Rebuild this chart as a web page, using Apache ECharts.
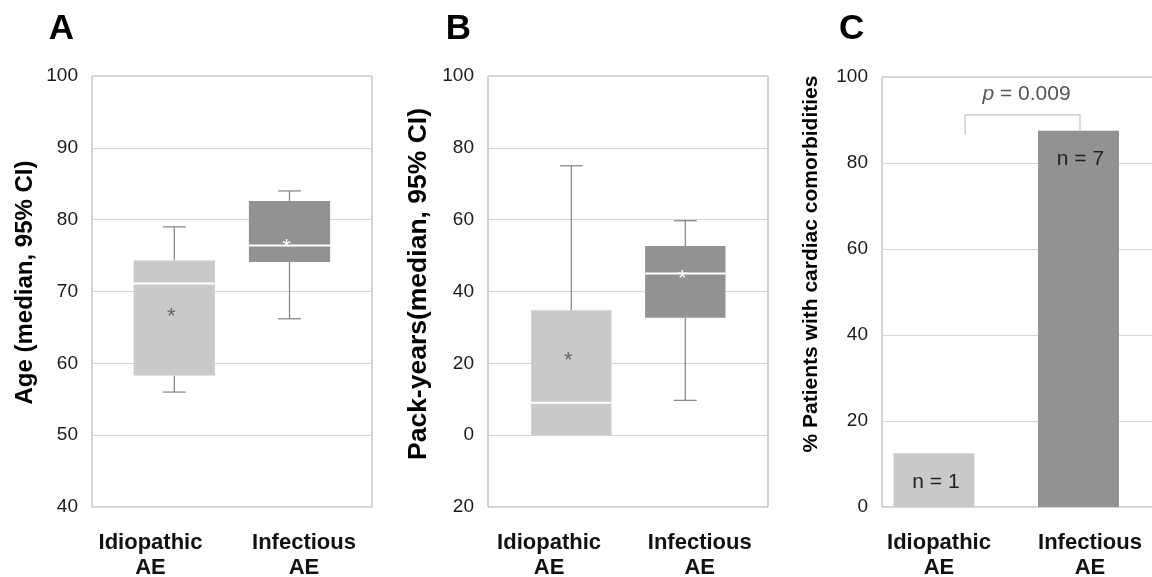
<!DOCTYPE html>
<html>
<head>
<meta charset="utf-8">
<title>Idiopathic vs infectious AE</title>
<script src="https://cdn.jsdelivr.net/npm/echarts@6/dist/echarts.min.js"></script>
<style>
  html, body { margin: 0; padding: 0; background: #fff; }
  #chart { width: 1152px; height: 577px; }
</style>
</head>
<body>
<div id="chart"></div>
<script>
const FONT = '"Liberation Sans", Arial, Helvetica, sans-serif';

const groups = ['Idiopathic\nAE', 'Infectious\nAE'];

// A - age
const ageMin = [56, 66.2];
const ageQ1 = [58.3, 74.1];
const ageMedian = [71.1, 76.4];
const ageQ3 = [74.3, 82.6];
const ageMax = [79, 84];
const ageMean = [67.1, 76.7];
const ageTicks = ['40', '50', '60', '70', '80', '90', '100'];

// B - pack-years
const packMin = [0, 9.7];
const packQ1 = [0, 32.7];
const packMedian = [9, 45];
const packQ3 = [34.8, 52.7];
const packMax = [75, 59.7];
const packMean = [22, 45];
const packTicks = ['20', '0', '20', '40', '60', '80', '100'];

// C - cardiac comorbidities
const cardiacPct = [12.5, 87.5];
const cardiacN = ['n = 1', 'n = 7'];
const pctTicks = ['0', '20', '40', '60', '80', '100'];
const bracketTop = 91.2;
const bracketFeet = [86.7, 87.4];
const pLabel = 'p';
const pText = ' = 0.009';

const boxColors = ['#c9c9c9', '#929292'];
const starColors = ['#666666', '#ffffff'];

function boxRows(mins, q1s, meds, q3s, maxs, means) {
  return groups.map((g, i) => [i, mins[i], q1s[i], meds[i], q3s[i], maxs[i], means[i]]);
}

function renderBox(params, api) {
  const cat = api.value(0);
  const vMin = api.value(1), q1 = api.value(2), med = api.value(3);
  const q3 = api.value(4), vMax = api.value(5), mean = api.value(6);
  const band = api.size([1, 0])[0];
  const cx = api.coord([cat, med])[0];
  const y = (v) => api.coord([cat, v])[1];
  const boxW = band * 0.705;
  const capW = band * 0.2;
  const stroke = { stroke: '#808080', lineWidth: 1.2 };
  const kids = [];
  // whiskers
  kids.push({ type: 'line', shape: { x1: cx, y1: y(vMax), x2: cx, y2: y(q3) }, style: stroke });
  kids.push({ type: 'line', shape: { x1: cx - capW / 2, y1: y(vMax), x2: cx + capW / 2, y2: y(vMax) }, style: stroke });
  if (vMin < q1) {
    kids.push({ type: 'line', shape: { x1: cx, y1: y(q1), x2: cx, y2: y(vMin) }, style: stroke });
    kids.push({ type: 'line', shape: { x1: cx - capW / 2, y1: y(vMin), x2: cx + capW / 2, y2: y(vMin) }, style: stroke });
  }
  // box
  kids.push({
    type: 'rect',
    shape: { x: cx - boxW / 2, y: y(q3), width: boxW, height: y(q1) - y(q3) },
    style: { fill: boxColors[params.dataIndex] }
  });
  // median
  kids.push({
    type: 'line',
    shape: { x1: cx - boxW / 2, y1: y(med), x2: cx + boxW / 2, y2: y(med) },
    style: { stroke: '#ffffff', lineWidth: 2 }
  });
  // mean marker
  kids.push({
    type: 'text',
    x: cx - 3,
    y: y(mean) + 5,
    style: {
      text: '*', fill: starColors[params.dataIndex], fontSize: 22, fontFamily: FONT,
      align: 'center', verticalAlign: 'middle'
    }
  });
  return { type: 'group', children: kids };
}

function renderBracket(params, api) {
  const band = api.size([1, 0])[0];
  const top = api.value(0);
  const x1 = api.coord([0, top])[0] + band * 0.215;
  const x2 = api.coord([1, top])[0] + 1.5;
  const yTop = api.coord([0, top])[1];
  const yL = api.coord([0, api.value(1)])[1];
  const yR = api.coord([1, api.value(2)])[1];
  return {
    type: 'group',
    children: [
      {
        type: 'polyline',
        shape: { points: [[x1, yL], [x1, yTop], [x2, yTop], [x2, yR]] },
        style: { stroke: '#c4c4c4', lineWidth: 1.2, fill: null }
      },
      {
        type: 'text',
        x: (x1 + x2) / 2 + 4,
        y: yTop - 21,
        style: {
          text: '{i|' + pLabel + '}' + pText,
          fill: '#555555', fontSize: 21, fontFamily: FONT,
          align: 'center', verticalAlign: 'middle',
          rich: { i: { fontStyle: 'italic', fontSize: 21, fontFamily: FONT, fill: '#555555' } }
        }
      }
    ]
  };
}

const frameGrid = (left, top, width, height) => ({
  left, top, width, height, show: true, borderColor: '#a8a8a8', borderWidth: 1,
  outerBoundsMode: 'none', containLabel: false
});
const plainGrid = (left, top, width, height) => ({
  left, top, width, height, outerBoundsMode: 'none', containLabel: false
});

const tickLabel = (ticks, min, step) => ({
  fontSize: 19, color: '#1a1a1a', fontFamily: FONT, margin: 14,
  formatter: (v) => ticks[Math.round((v - min) / step)]
});
const frameY = (gridIndex, min, max, interval, ticks) => ({
  gridIndex, type: 'value', min, max, interval,
  axisLine: { show: false }, axisTick: { show: false },
  axisLabel: tickLabel(ticks, min, interval),
  splitLine: { lineStyle: { color: '#d6d6d6', width: 1 } }
});
const hiddenY = (gridIndex, min, max) => ({ gridIndex, type: 'value', min, max, show: false });
const hiddenX = (gridIndex) => ({ gridIndex, type: 'category', data: groups, show: false });
const labelX = (gridIndex) => ({
  gridIndex, type: 'category', data: groups,
  axisLine: { show: false }, axisTick: { show: false }, splitLine: { show: false },
  axisLabel: {
    interval: 0, fontSize: 22, fontWeight: 'bold', lineHeight: 25,
    color: '#111111', fontFamily: FONT, margin: 23
  }
});

const titleText = (text, x, y) => ({
  type: 'text', x, y,
  style: { text, fontSize: 35, fontWeight: 'bold', fontFamily: FONT, fill: '#000', align: 'center', verticalAlign: 'middle' }
});
const axisTitle = (text, x, y, size) => ({
  type: 'text', x, y, rotation: Math.PI / 2,
  style: { text, fontSize: size, fontWeight: 'bold', fontFamily: FONT, fill: '#000', align: 'center', verticalAlign: 'middle' }
});

const option = {
  backgroundColor: '#ffffff',
  animation: false,
  grid: [
    frameGrid(92, 76, 280, 431),
    plainGrid(116.7, 76, 230.4, 431),
    plainGrid(73.75, 76, 307, 431),
    frameGrid(488, 76, 280, 431),
    plainGrid(514.3, 76, 228, 431),
    plainGrid(473.7, 76, 301.4, 431),
    frameGrid(882, 77, 280, 430),
    plainGrid(861.75, 77, 289, 430),
    plainGrid(863.5, 77, 302, 430)
  ],
  xAxis: [
    hiddenX(0), hiddenX(1), labelX(2),
    hiddenX(3), hiddenX(4), labelX(5),
    hiddenX(6), hiddenX(7), labelX(8)
  ],
  yAxis: [
    frameY(0, 40, 100, 10, ageTicks), hiddenY(1, 40, 100), hiddenY(2, 40, 100),
    frameY(3, -20, 100, 20, packTicks), hiddenY(4, -20, 100), hiddenY(5, -20, 100),
    frameY(6, 0, 100, 20, pctTicks), hiddenY(7, 0, 100), hiddenY(8, 0, 100)
  ],
  series: [
    {
      type: 'custom', name: 'Age', xAxisIndex: 1, yAxisIndex: 1,
      data: boxRows(ageMin, ageQ1, ageMedian, ageQ3, ageMax, ageMean),
      encode: { x: 0, y: [1, 2, 3, 4, 5, 6] },
      renderItem: renderBox
    },
    {
      type: 'custom', name: 'Pack-years', xAxisIndex: 4, yAxisIndex: 4,
      data: boxRows(packMin, packQ1, packMedian, packQ3, packMax, packMean),
      encode: { x: 0, y: [1, 2, 3, 4, 5, 6] },
      renderItem: renderBox
    },
    {
      type: 'bar', name: 'Cardiac comorbidities', xAxisIndex: 7, yAxisIndex: 7,
      barWidth: 81,
      data: cardiacPct.map((v, i) => ({
        value: v,
        itemStyle: { color: boxColors[i] },
        label: {
          show: true,
          position: i === 0 ? 'insideBottom' : 'insideTop',
          distance: i === 0 ? 14 : 18,
          offset: [2, 0],
          formatter: cardiacN[i],
          fontSize: 21, color: '#222222', fontFamily: FONT
        }
      }))
    },
    {
      type: 'custom', name: 'p', xAxisIndex: 7, yAxisIndex: 7,
      data: [[bracketTop, bracketFeet[0], bracketFeet[1]]],
      encode: { y: [0, 1, 2] },
      renderItem: renderBracket,
      z: 5
    }
  ],
  graphic: [
    titleText('A', 61.5, 29),
    titleText('B', 458.3, 29),
    titleText('C', 851.7, 29),
    axisTitle('Age (median, 95% CI)', 25, 282.5, 24),
    axisTitle('Pack-years(median, 95% CI)', 418.3, 284, 26.5),
    axisTitle('% Patients with cardiac comorbidities', 811.7, 264, 21)
  ]
};

const chart = echarts.init(document.getElementById('chart'), null, { renderer: 'canvas' });
chart.setOption(option);
window.addEventListener('resize', () => chart.resize());
</script>
</body>
</html>
